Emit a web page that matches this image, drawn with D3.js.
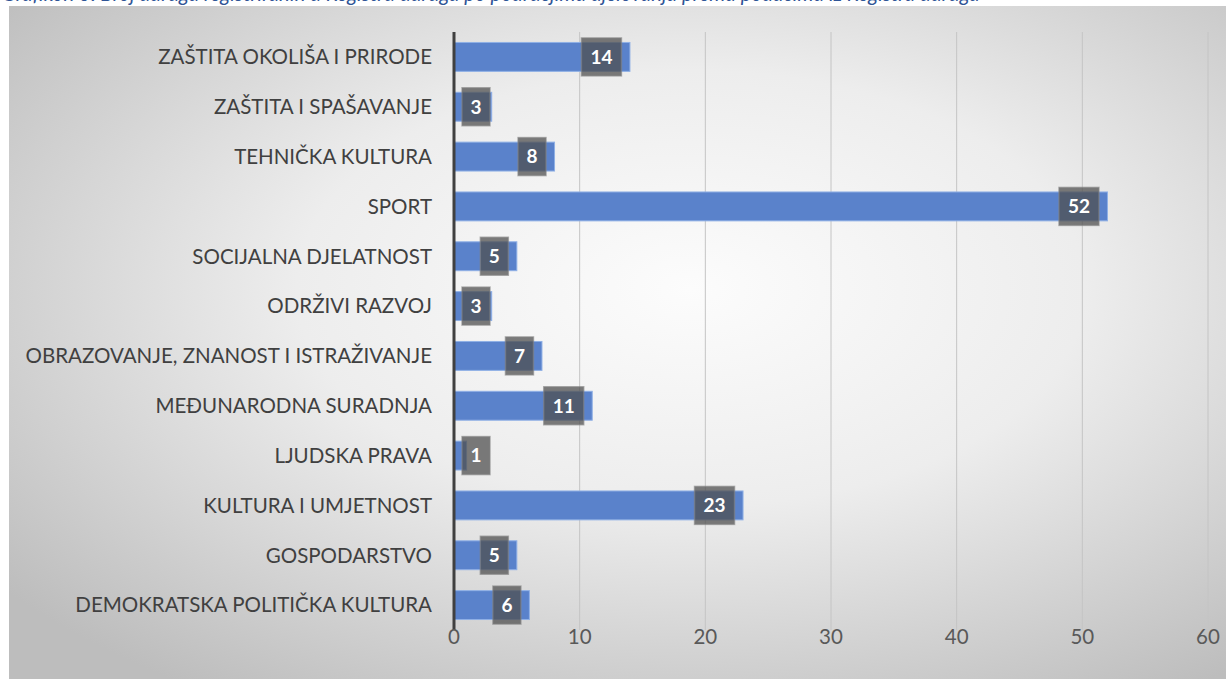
<!DOCTYPE html>
<html><head><meta charset="utf-8">
<script src="https://cdn.jsdelivr.net/npm/d3@7"></script>
<style>body{margin:0;background:#fff;overflow:hidden}svg{display:block}</style>
</head><body>
<svg id="c" width="1226" height="679"></svg>
<script>
const categories = ["ZAŠTITA OKOLIŠA I PRIRODE","ZAŠTITA I SPAŠAVANJE","TEHNIČKA KULTURA","SPORT","SOCIJALNA DJELATNOST","ODRŽIVI RAZVOJ","OBRAZOVANJE, ZNANOST I ISTRAŽIVANJE","MEĐUNARODNA SURADNJA","LJUDSKA PRAVA","KULTURA I UMJETNOST","GOSPODARSTVO","DEMOKRATSKA POLITIČKA KULTURA"];
const values = [14,3,8,52,5,3,7,11,1,23,5,6];
const xTicks = [0,10,20,30,40,50,60];
const caption = "Grafikon 3. Broj udruga registriranih u Registru udruga po područjima djelovanja prema podacima iz Registra udruga";

const svg = d3.select("#c");
const defs = svg.append("defs");
const g = defs.append("radialGradient").attr("id","bg").attr("cx","0.56").attr("cy","0.42").attr("r","0.72");
g.append("stop").attr("offset","0").attr("stop-color","#fcfcfc");
g.append("stop").attr("offset","0.45").attr("stop-color","#ededed");
g.append("stop").attr("offset","1").attr("stop-color","#bdbdbd");

svg.append("text").attr("x",2).attr("y",1).attr("font-family","Lato, sans-serif").attr("font-style","italic")
  .attr("font-size",20.5).attr("fill","#2f5496").text(caption);

svg.append("rect").attr("x",9).attr("y",6).attr("width",1226-9).attr("height",679-6).attr("fill","url(#bg)");

const x = d3.scaleLinear().domain([0,60]).range([454,1208]);
const y = d3.scaleBand().domain(categories).range([32,630]).paddingInner(0.42).paddingOuter(0.21);

// gridlines
svg.append("g").selectAll("line").data(xTicks.slice(1)).join("line")
  .attr("x1",d=>x(d)).attr("x2",d=>x(d)).attr("y1",32).attr("y2",630)
  .attr("stroke","#c4c4c4").attr("stroke-width",1);

// bars
svg.append("g").selectAll("rect").data(values).join("rect")
  .attr("x",x(0)).attr("y",(d,i)=>y(categories[i]))
  .attr("width",d=>x(d)-x(0)).attr("height",y.bandwidth())
  .attr("fill","#5a82cb").attr("stroke","#8fb0e6").attr("stroke-width",1);

// axis line
svg.append("line").attr("x1",x(0)).attr("x2",x(0)).attr("y1",32).attr("y2",630)
  .attr("stroke","#404040").attr("stroke-width",3);

// category labels
svg.append("g").selectAll("text").data(categories).join("text")
  .attr("x",432).attr("y",d=>y(d)+y.bandwidth()/2).attr("dy","0.36em")
  .attr("text-anchor","end").attr("font-family","Lato, sans-serif").attr("font-size",20.5)
  .attr("fill","#404040").text(d=>d);

// tick labels
svg.append("g").selectAll("text").data(xTicks).join("text")
  .attr("x",d=>x(d)).attr("y",637).attr("dy","0.36em").attr("text-anchor","middle")
  .attr("font-family","Lato, sans-serif").attr("font-size",20.5).attr("fill","#595959").text(d=>d);

// value labels
const lab = svg.append("g").selectAll("g").data(values).join("g");
lab.each(function(d,i){
  const gg = d3.select(this);
  const w = String(d).length>1 ? 40 : 28;
  let right = x(d) - 8.5;
  let left = right - w;
  if (left < 462) { left = 462; right = left + w; }
  const cy = y(categories[i]) + y.bandwidth()/2;
  gg.append("rect").attr("x",left).attr("y",cy-19).attr("width",w).attr("height",38)
    .attr("fill","rgba(78,78,78,0.74)").attr("stroke","rgba(130,130,130,0.6)").attr("stroke-width",1.5);
  gg.append("text").attr("x",(left+right)/2).attr("y",cy).attr("dy","0.36em").attr("text-anchor","middle")
    .attr("font-family","Lato, sans-serif").attr("font-weight","bold").attr("font-size",19)
    .attr("fill","#ffffff").text(d);
});
</script>
</body></html>
